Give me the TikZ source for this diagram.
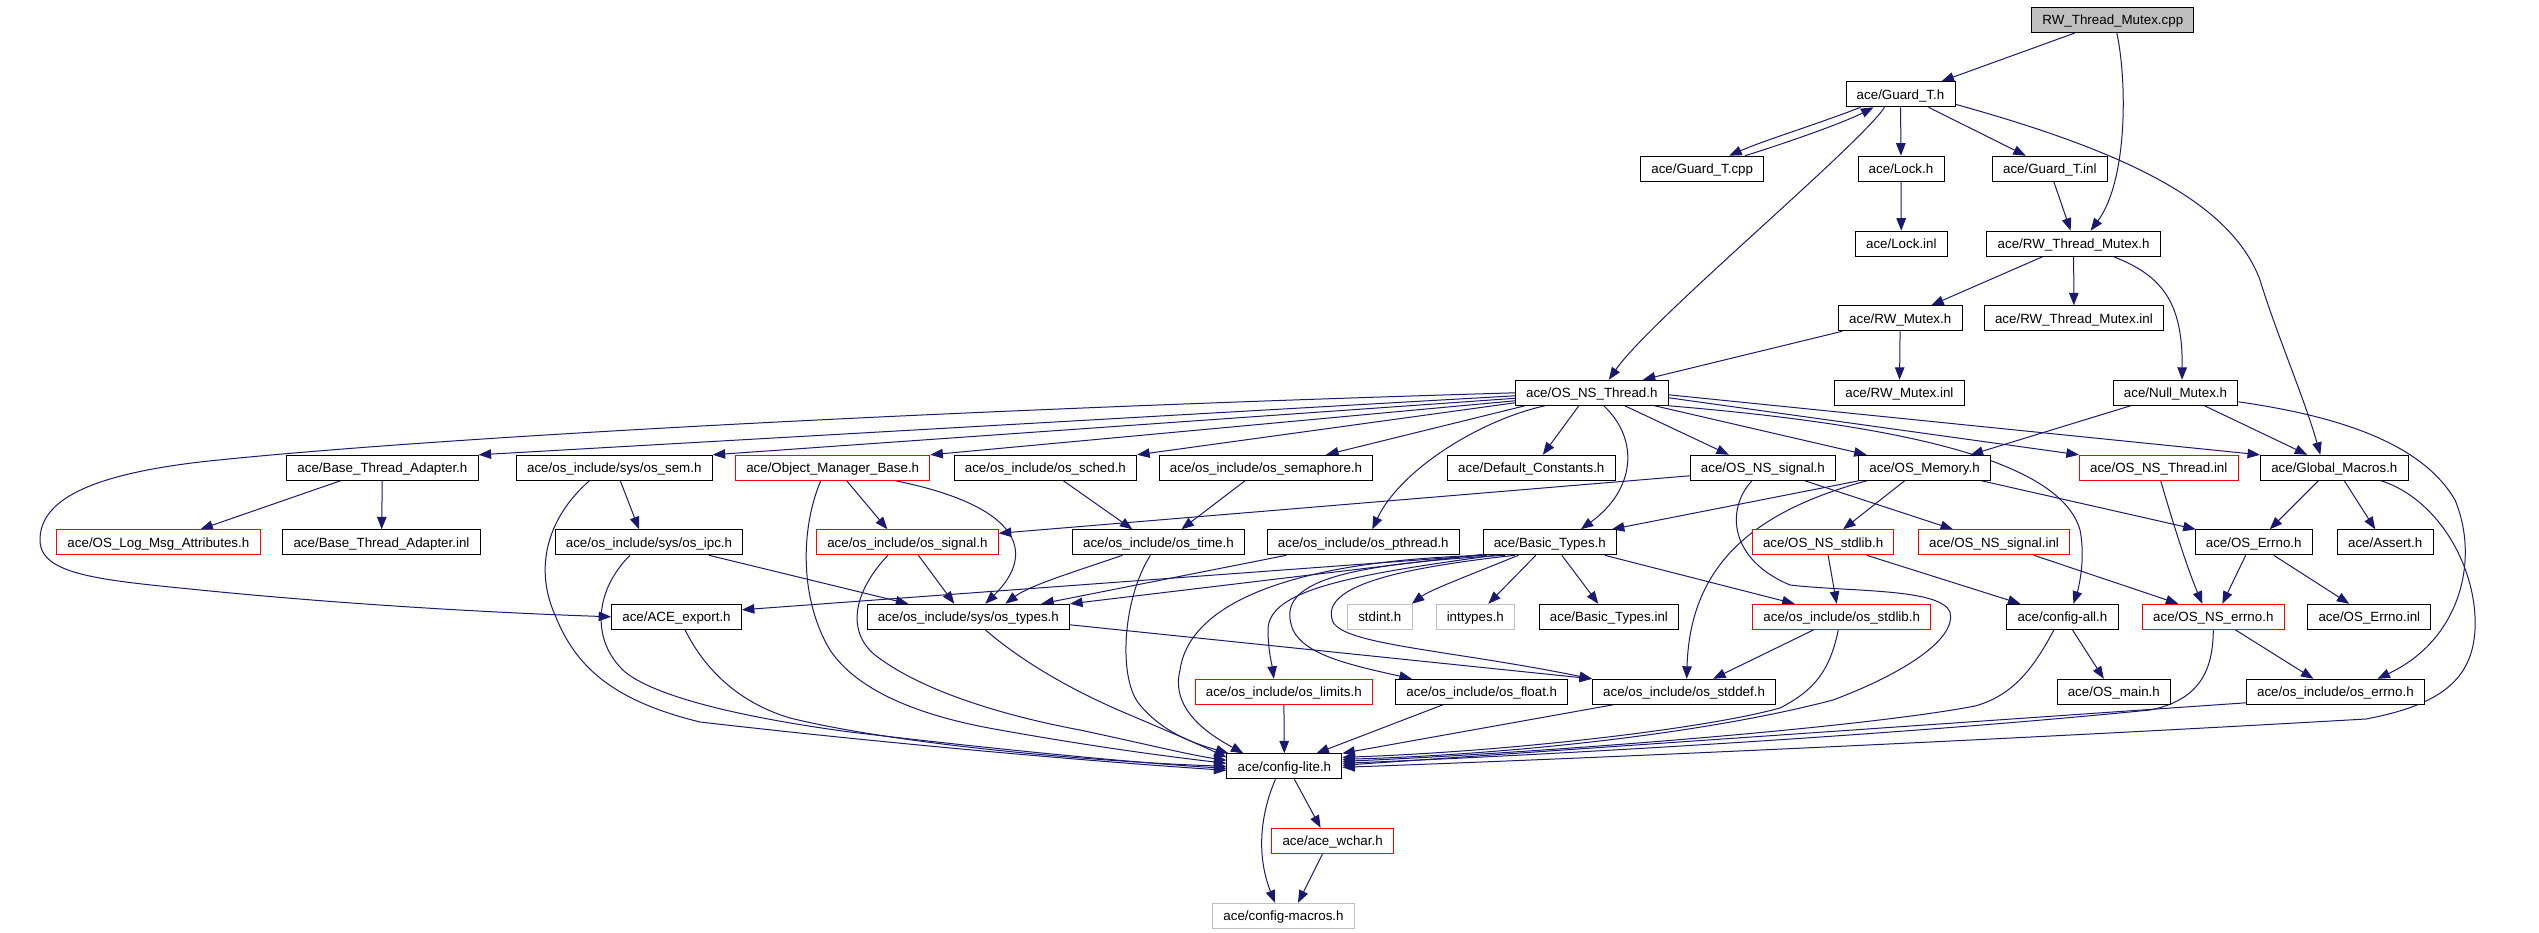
\documentclass[tikz,border=0pt]{standalone}
\usepackage{fontspec}
\setmainfont{Liberation Sans}
\newfontfamily\dxfont{Liberation Sans}
\usetikzlibrary{arrows.meta}
\definecolor{edgec}{HTML}{191970}
\definecolor{redc}{HTML}{FF0000}
\definecolor{grayc}{HTML}{BFBFBF}
\pgfdeclarelayer{bg}
\pgfsetlayers{bg,main}
\begin{document}
\begin{tikzpicture}[x=1pt,y=-1pt,
  box/.style={draw=black, fill=white, line width=1pt, minimum height=25pt, inner xsep=10.7pt, inner ysep=0pt, text height=9.7pt, text depth=0pt, font=\dxfont\fontsize{13.35pt}{15pt}\selectfont},
  redbox/.style={box, draw=redc},
  graybox/.style={box, draw=grayc},
  rootbox/.style={box, fill=grayc},
  dep/.style={draw=edgec, line width=1pt, -{Triangle[length=12.5pt,width=9.5pt]}}]
\useasboundingbox (0,0) rectangle (2539,933);
% rows
\node[rootbox] (cpp) at (2112.8,20) {RW\_Thread\_Mutex.cpp};
\node[box] (guardh) at (1900.5,94.3) {ace/Guard\_T.h};
\node[box] (guardcpp) at (1702.2,168.7) {ace/Guard\_T.cpp};
\node[box] (lockh) at (1901,168.7) {ace/Lock.h};
\node[box] (guardinl) at (2049.8,168.7) {ace/Guard\_T.inl};
\node[box] (lockinl) at (1901.3,243.7) {ace/Lock.inl};
\node[box] (rwtmh) at (2073.6,243.7) {ace/RW\_Thread\_Mutex.h};
\node[box] (rwmh) at (1900.2,318.3) {ace/RW\_Mutex.h};
\node[box] (rwtminl) at (2073.9,318.3) {ace/RW\_Thread\_Mutex.inl};
\node[box] (osnsth) at (1591.8,392.8) {ace/OS\_NS\_Thread.h};
\node[box] (rwminl) at (1899.4,392.8) {ace/RW\_Mutex.inl};
\node[box] (nullm) at (2175.5,392.8) {ace/Null\_Mutex.h};
% row 6
\node[box] (bta) at (382.4,467.8) {ace/Base\_Thread\_Adapter.h};
\node[box] (ossem) at (614.3,467.8) {ace/os\_include/sys/os\_sem.h};
\node[redbox] (omb) at (832.7,467.8) {ace/Object\_Manager\_Base.h};
\node[box] (ossched) at (1045.4,467.8) {ace/os\_include/os\_sched.h};
\node[box] (ossemaph) at (1266,467.8) {ace/os\_include/os\_semaphore.h};
\node[box] (defc) at (1531.3,467.8) {ace/Default\_Constants.h};
\node[box] (osnssig) at (1762.9,467.8) {ace/OS\_NS\_signal.h};
\node[box] (osmem) at (1924.6,467.8) {ace/OS\_Memory.h};
\node[redbox] (osnsthinl) at (2158.7,467.8) {ace/OS\_NS\_Thread.inl};
\node[box] (glob) at (2334.3,467.8) {ace/Global\_Macros.h};
% row 7
\node[redbox] (logmsg) at (158.4,542.3) {ace/OS\_Log\_Msg\_Attributes.h};
\node[box] (btainl) at (381.5,542.3) {ace/Base\_Thread\_Adapter.inl};
\node[box] (osipc) at (649,542.3) {ace/os\_include/sys/os\_ipc.h};
\node[redbox] (ossig) at (907.4,542.3) {ace/os\_include/os\_signal.h};
\node[box] (ostime) at (1158.4,542.3) {ace/os\_include/os\_time.h};
\node[box] (ospth) at (1363.3,542.3) {ace/os\_include/os\_pthread.h};
\node[box] (basic) at (1549.8,542.3) {ace/Basic\_Types.h};
\node[redbox] (osnsstdlib) at (1823.1,542.3) {ace/OS\_NS\_stdlib.h};
\node[redbox] (osnssiginl) at (1994,542.3) {ace/OS\_NS\_signal.inl};
\node[box] (oserrno) at (2253.7,542.3) {ace/OS\_Errno.h};
\node[box] (assert) at (2385.2,542.3) {ace/Assert.h};
% row 8
\node[box] (aceexp) at (676.5,616.8) {ace/ACE\_export.h};
\node[box] (ostypes) at (968.3,616.8) {ace/os\_include/sys/os\_types.h};
\node[graybox] (stdint) at (1379.8,616.8) {stdint.h};
\node[graybox] (inttypes) at (1475.3,616.8) {inttypes.h};
\node[box] (btinl) at (1608.9,616.8) {ace/Basic\_Types.inl};
\node[redbox] (osstdlib) at (1841.7,616.8) {ace/os\_include/os\_stdlib.h};
\node[box] (cfgall) at (2062.4,616.8) {ace/config-all.h};
\node[redbox] (osnserrno) at (2213.3,616.8) {ace/OS\_NS\_errno.h};
\node[box] (oserrinl) at (2369.3,616.8) {ace/OS\_Errno.inl};
% row 9
\node[redbox] (oslimits) at (1283.8,691.8) {ace/os\_include/os\_limits.h};
\node[box] (osfloat) at (1481.8,691.8) {ace/os\_include/os\_float.h};
\node[box] (osstddef) at (1684.1,691.8) {ace/os\_include/os\_stddef.h};
\node[box] (osmain) at (2113.8,691.8) {ace/OS\_main.h};
\node[box] (oserrnoh) at (2335.4,691.8) {ace/os\_include/os\_errno.h};
% rows 10-12
\node[box] (cfglite) at (1284.4,766.3) {ace/config-lite.h};
\node[redbox] (wchar) at (1332.6,840.8) {ace/ace\_wchar.h};
\node[graybox] (cfgmac) at (1283.5,915.8) {ace/config-macros.h};

\begin{pgfonlayer}{bg}
\fill[white] (0,0) rectangle (2539,933);
% top part
\draw[dep] ([xshift=-38pt]cpp.south) -- ([xshift=41pt]guardh.north);
\draw[dep] ([xshift=4pt]cpp.south) .. controls (2127,80) and (2128,180) .. ([xshift=17pt]rwtmh.north);
\draw[dep] ([xshift=-40pt]guardh.south) .. controls (1815,125) and (1765,140) .. ([xshift=27pt]guardcpp.north);
\draw[dep] ([xshift=43pt]guardcpp.north) .. controls (1795,140) and (1845,122) .. ([xshift=-27pt]guardh.south);
\draw[dep] (guardh) -- (lockh);
\draw[dep] ([xshift=28pt]guardh.south) -- ([xshift=-24pt]guardinl.north);
\draw[dep] ([yshift=-10pt]guardh.east) .. controls (2120,150) and (2230,200) .. (2260,280) .. controls (2275,330) and (2305,400) .. ([xshift=-14pt]glob.north);
\draw[dep] ([xshift=-16pt]guardh.south) .. controls (1860,145) and (1650,320) .. ([xshift=17pt]osnsth.north);
\draw[dep] (lockh) -- (lockinl);
\draw[dep] ([xshift=4pt]guardinl.south) -- ([xshift=-3pt]rwtmh.north);
\draw[dep] ([xshift=-31pt]rwtmh.south) -- ([xshift=31pt]rwmh.north);
\draw[dep] (rwtmh) -- (rwtminl);
\draw[dep] ([xshift=40pt]rwtmh.south) .. controls (2160,275) and (2183,300) .. ([xshift=6.5pt]nullm.north);
\draw[dep] ([xshift=-58pt]rwmh.south) -- ([xshift=51pt]osnsth.north);
\draw[dep] (rwmh) -- (rwminl);
\draw[dep] ([xshift=-45pt]nullm.south) -- ([xshift=46pt]osmem.north);
\draw[dep] ([xshift=29pt]nullm.south) -- ([xshift=-27pt]glob.north);
\draw[dep] ([yshift=-9pt]nullm.east) .. controls (2330,415) and (2420,440) .. (2455,500) .. controls (2480,560) and (2460,640) .. ([xshift=42pt]oserrnoh.north);
% OS_NS_Thread.h fan
\draw[dep] (osnsth.west) .. controls (900,411) and (400,440) .. (200,462) .. controls (90,475) and (40,500) .. (40,540) .. controls (40,575) and (100,580) .. (200,590) .. controls (350,605) and (500,613) .. (aceexp.west);
\draw[dep] ([yshift=-3pt]osnsth.west) -- (bta.north east);
\draw[dep] ([yshift=-5.5pt]osnsth.west) -- (ossem.north east);
\draw[dep] ([yshift=-8pt]osnsth.west) -- (omb.north east);
\draw[dep] ([yshift=-10pt]osnsth.west) -- (ossched.north east);
\draw[dep] ([xshift=-67pt]osnsth.south) -- ([xshift=60pt]ossemaph.north);
\draw[dep] ([xshift=-47pt]osnsth.south) .. controls (1480,420) and (1400,470) .. ([xshift=9pt]ospth.north);
\draw[dep] ([xshift=-13pt]osnsth.south) -- ([xshift=11.5pt]defc.north);
\draw[dep] ([xshift=12pt]osnsth.south) .. controls (1640,440) and (1635,490) .. ([xshift=31pt]basic.north);
\draw[dep] ([xshift=33pt]osnsth.south) -- ([xshift=-34pt]osnssig.north);
\draw[dep] ([xshift=63pt]osnsth.south) -- ([xshift=-58pt]osmem.north);
\draw[dep] ([yshift=-5pt]osnsth.east) -- (osnsthinl.north west);
\draw[dep] ([yshift=-2pt]osnsth.east) -- (glob.north west);
\draw[dep] (osnsth.south east) .. controls (1900,425) and (2060,460) .. (2080,530) .. controls (2086,560) and (2078,590) .. ([xshift=11pt]cfgall.north);
% Base_Thread_Adapter
\draw[dep] ([xshift=-42pt]bta.south) -- ([xshift=42pt]logmsg.north);
\draw[dep] (bta) -- (btainl);
% os_sem
\draw[dep] ([xshift=6pt]ossem.south) -- ([xshift=-10pt]osipc.north);
\draw[dep] ([xshift=-25pt]ossem.south) .. controls (545,520) and (535,570) .. (555,615) .. controls (575,665) and (610,700) .. (700,722) .. controls (900,745) and (1100,762) .. ([yshift=-4pt]cfglite.west);
% Object_Manager_Base
\draw[dep] ([xshift=14pt]omb.south) -- ([xshift=-20pt]ossig.north);
\draw[dep] ([xshift=63pt]omb.south) .. controls (1015,505) and (1040,550) .. ([xshift=17pt]ostypes.north);
\draw[dep] ([xshift=-12pt]omb.south) .. controls (800,530) and (800,600) .. (830,650) .. controls (860,695) and (930,718) .. (1000,730) .. controls (1100,748) and (1180,758) .. ([yshift=3pt]cfglite.west);
% sched / semaphore
\draw[dep] ([xshift=18pt]ossched.south) -- ([xshift=-26pt]ostime.north);
\draw[dep] ([xshift=-21pt]ossemaph.south) -- ([xshift=23pt]ostime.north);
% OS_NS_signal
\draw[dep] ([yshift=-8pt]osnssig.west) -- ([yshift=9pt]ossig.east);
\draw[dep] ([xshift=42pt]osnssig.south) -- ([xshift=-41pt]osnssiginl.north);
\draw[dep] ([xshift=-11pt]osnssig.south) .. controls (1725,510) and (1730,560) .. (1790,585) .. controls (1850,592) and (1940,588) .. (1950,612) .. controls (1957,640) and (1900,675) .. (1833,700) .. controls (1700,735) and (1500,755) .. ([yshift=7pt]cfglite.east);
% OS_Memory
\draw[dep] ([xshift=-66pt]osmem.south) -- ([xshift=62pt]basic.north);
\draw[dep] ([xshift=-58pt]osmem.south) .. controls (1760,510) and (1690,560) .. ([xshift=2.6pt]osstddef.north);
\draw[dep] ([xshift=-20pt]osmem.south) -- ([xshift=20pt]osnsstdlib.north);
\draw[dep] ([xshift=57pt]osmem.south) -- ([xshift=-58pt]oserrno.north);
% OS_NS_stdlib
\draw[dep] ([xshift=5pt]osnsstdlib.south) -- ([xshift=-5pt]osstdlib.north);
\draw[dep] ([xshift=43.6pt]osnsstdlib.south) -- ([xshift=-42pt]cfgall.north);
% inl -> errno
\draw[dep] ([xshift=40pt]osnssiginl.south) -- ([xshift=-35pt]osnserrno.north);
\draw[dep] ([xshift=2pt]osnsthinl.south) .. controls (2175,530) and (2188,570) .. ([xshift=-11pt]osnserrno.north);
% Global_Macros
\draw[dep] ([xshift=-16pt]glob.south) -- ([xshift=16pt]oserrno.north);
\draw[dep] ([xshift=10pt]glob.south) -- ([xshift=-10pt]assert.north);
\draw[dep] ([xshift=47pt]glob.south) .. controls (2440,500) and (2478,570) .. (2475,630) .. controls (2472,680) and (2440,705) .. (2366,719) .. controls (2000,740) and (1600,758) .. ([yshift=-1pt]cfglite.east);
% OS_Errno
\draw[dep] ([xshift=-8pt]oserrno.south) -- ([xshift=9pt]osnserrno.north);
\draw[dep] ([xshift=20pt]oserrno.south) -- ([xshift=-20pt]oserrinl.north);
% os_ipc
\draw[dep] ([xshift=60pt]osipc.south) -- ([xshift=-60pt]ostypes.north);
\draw[dep] ([xshift=-19pt]osipc.south) .. controls (595,590) and (590,640) .. (625,672) .. controls (660,700) and (760,720) .. (850,732) .. controls (1000,750) and (1150,764) .. ([yshift=-2pt]cfglite.west);
% os_signal
\draw[dep] ([xshift=11pt]ossig.south) -- ([xshift=-14pt]ostypes.north);
\draw[dep] ([xshift=-19.5pt]ossig.south) .. controls (855,590) and (845,630) .. (875,655) .. controls (920,690) and (1000,715) .. (1080,730) .. controls (1150,745) and (1190,755) .. ([yshift=6pt]cfglite.west);
% os_time
\draw[dep] ([xshift=-36pt]ostime.south) .. controls (1080,570) and (1030,585) .. ([xshift=37pt]ostypes.north);
\draw[dep] ([xshift=-8pt]ostime.south) .. controls (1122,600) and (1118,680) .. (1140,705) .. controls (1165,735) and (1200,745) .. ([xshift=-56pt]cfglite.north);
% os_pthread
\draw[dep] ([xshift=-77pt]ospth.south) -- ([xshift=73pt]ostypes.north);
% Basic_Types
\draw[dep] (basic.south west) -- ([yshift=7pt]aceexp.east);
\draw[dep] ([yshift=1pt]basic.south west) -- (ostypes.north east);
\draw[dep] ([xshift=-31.5pt]basic.south) .. controls (1470,575) and (1430,590) .. ([xshift=32pt]stdint.north);
\draw[dep] ([xshift=-14pt]basic.south) -- ([xshift=13pt]inttypes.north);
\draw[dep] ([xshift=12pt]basic.south) -- ([xshift=-10.6pt]btinl.north);
\draw[dep] ([xshift=55pt]basic.south) -- ([xshift=-47pt]osstdlib.north);
\draw[dep] ([xshift=-55pt]basic.south) .. controls (1350,575) and (1268,590) .. (1268,630) .. controls (1268,650) and (1272,665) .. ([xshift=-10pt]oslimits.north);
\draw[dep] ([xshift=-45pt]basic.south) .. controls (1330,565) and (1275,585) .. (1293,630) .. controls (1305,655) and (1350,665) .. ([xshift=-70pt]osfloat.north);
\draw[dep] ([xshift=-35pt]basic.south) .. controls (1380,570) and (1320,590) .. (1333,622) .. controls (1345,645) and (1450,650) .. (osstddef.north west);
\draw[dep] ([xshift=-63pt]basic.south) .. controls (1300,560) and (1190,600) .. (1180,670) .. controls (1170,710) and (1210,735) .. ([xshift=-41pt]cfglite.north);
% os_types
\draw[dep] ([yshift=-8pt]ostypes.east) -- (osstddef.north west);
\draw[dep] ([xshift=17pt]ostypes.south) .. controls (1020,660) and (1070,690) .. (1130,715) .. controls (1170,732) and (1200,745) .. ([yshift=9pt]cfglite.west);
% ACE_export
\draw[dep] ([xshift=8.5pt]aceexp.south) .. controls (700,660) and (730,700) .. (790,718) .. controls (900,745) and (1100,762) .. (cfglite.west);
% os_stdlib
\draw[dep] ([xshift=-28pt]osstdlib.south) -- ([xshift=29pt]osstddef.north);
\draw[dep] ([xshift=-3.4pt]osstdlib.south) .. controls (1830,670) and (1815,690) .. (1780,708) .. controls (1700,730) and (1500,752) .. ([yshift=9pt]cfglite.east);
% config-all
\draw[dep] ([xshift=10pt]cfgall.south) -- ([xshift=-10pt]osmain.north);
\draw[dep] ([xshift=-8.4pt]cfgall.south) .. controls (2035,665) and (2015,695) .. (1975,706) .. controls (1850,730) and (1500,755) .. ([yshift=5pt]cfglite.east);
% OS_NS_errno
\draw[dep] ([xshift=22pt]osnserrno.south) -- ([xshift=-22pt]oserrnoh.north);
\draw[dep] (osnserrno.south) .. controls (2213,670) and (2200,700) .. (2150,710) .. controls (1900,735) and (1550,755) .. ([yshift=3pt]cfglite.east);
% os_errno
\draw[dep] ([yshift=-11pt]oserrnoh.west) -- ([yshift=1pt]cfglite.east);
% row 9 -> config-lite
\draw[dep] (oslimits) -- (cfglite);
\draw[dep] ([xshift=-39pt]osfloat.south) -- ([xshift=32pt]cfglite.north);
\draw[dep] ([xshift=-71pt]osstddef.south) -- (cfglite.north east);
% config-lite
\draw[dep] ([xshift=10pt]cfglite.south) -- ([xshift=-12pt]wchar.north);
\draw[dep] ([xshift=-9pt]cfglite.south) .. controls (1258,820) and (1258,860) .. ([xshift=-8.5pt]cfgmac.north);
\draw[dep] ([xshift=-10pt]wchar.south) -- ([xshift=14.5pt]cfgmac.north);
\end{pgfonlayer}
\end{tikzpicture}
\end{document}
